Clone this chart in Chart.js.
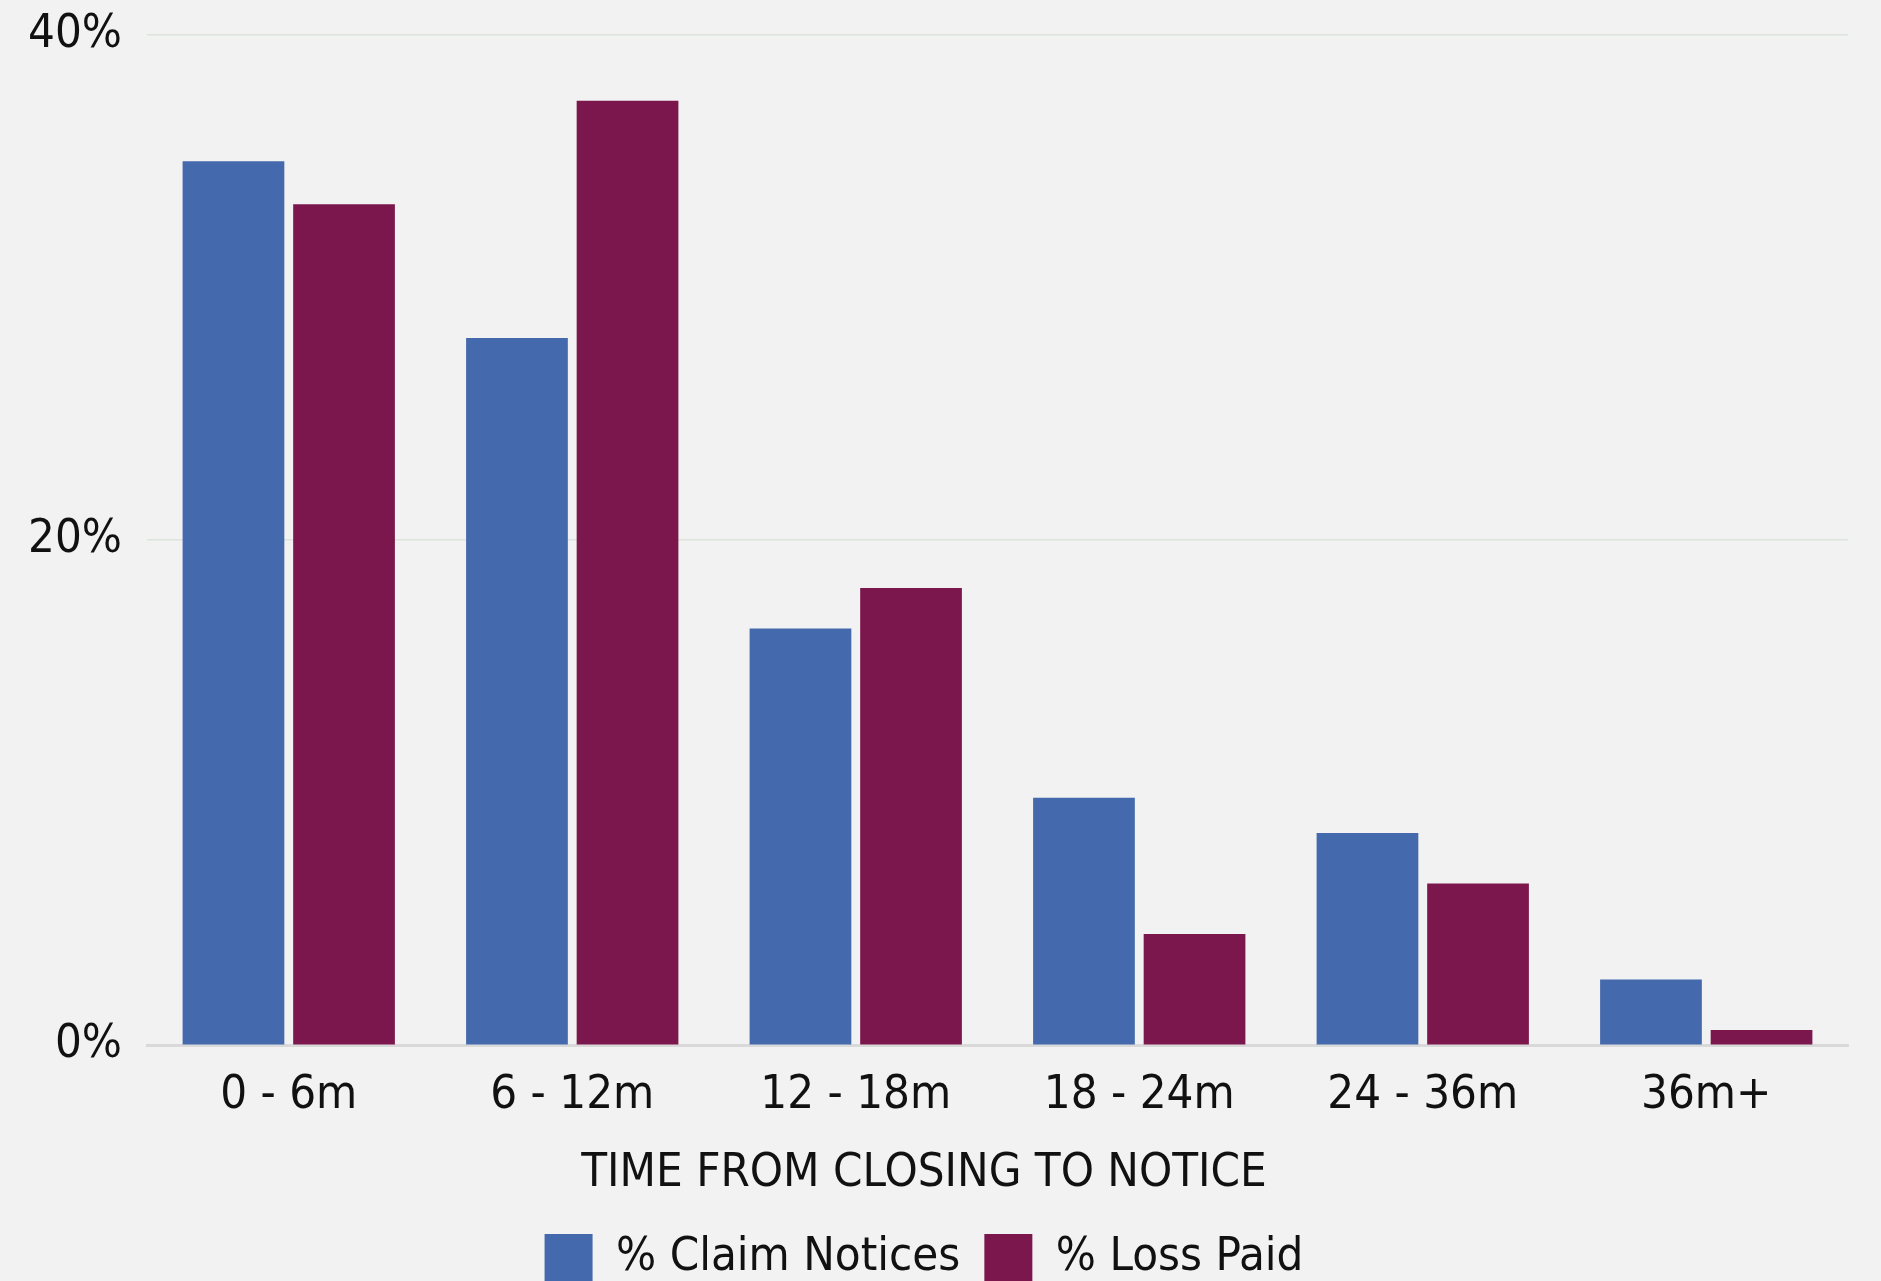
<!DOCTYPE html>
<html>
<head>
<meta charset="utf-8">
<script src="https://cdn.jsdelivr.net/npm/chart.js@4"></script>
<style>
  html, body { margin: 0; padding: 0; background: #f2f2f2; overflow: hidden; }
  #wrap { width: 1881px; height: 1292px; }
</style>
</head>
<body>
<div id="wrap"><canvas id="barChart"></canvas></div>
<script>
// Time buckets from closing to claim notice
const buckets = ['0 - 6m', '6 - 12m', '12 - 18m', '18 - 24m', '24 - 36m', '36m+'];
// Share of claim notices per bucket (%)
const claimNotices = [35.0, 28.0, 16.5, 9.8, 8.4, 2.6];
// Share of loss paid per bucket (%)
const lossPaid = [33.3, 37.4, 18.1, 4.4, 6.4, 0.6];

const FONT = "'Liberation Sans Narrow', 'DejaVu Sans Condensed', 'Roboto', sans-serif";
const FS = 47;
Chart.defaults.font.family = FONT;
Chart.defaults.color = '#111';

const ctx = document.getElementById('barChart').getContext('2d');
const barChart = new Chart(ctx, {
    type: 'bar',
    data: {
        labels: buckets,
        datasets: [
            {
                label: '% Claim Notices',
                data: claimNotices,
                backgroundColor: '#4469ac',
                barPercentage: 0.92,
                categoryPercentage: 0.78,
            },
            {
                label: '% Loss Paid',
                data: lossPaid,
                backgroundColor: '#7b174c',
                barPercentage: 0.92,
                categoryPercentage: 0.78,
            },
        ],
    },
    options: {
        responsive: true,
        maintainAspectRatio: false,
        animation: false,
        layout: {
            autoPadding: false,
            padding: { top: 35, right: 33, left: 0, bottom: 0 },
        },
        plugins: {
            tooltip: { enabled: false },
            legend: {
                position: 'bottom',
                labels: {
                    boxWidth: 48,
                    boxHeight: 48,
                    padding: 24,
                    font: { size: FS },
                    color: '#111',
                },
            },
            // x-axis caption sits between ticks and legend, centred on the canvas
            title: {
                display: true,
                position: 'bottom',
                weight: 500,
                text: 'TIME FROM CLOSING TO NOTICE',
                font: { size: FS, weight: 'normal' },
                color: '#111',
                padding: { top: 8, bottom: 8 },
            },
        },
        scales: {
            x: {
                grid: { display: false },
                border: { display: true, color: '#d9d9d9', width: 3 },
                ticks: {
                    font: { size: FS },
                    color: '#111',
                    padding: 14,
                },
            },
            y: {
                min: 0,
                max: 40,
                // fixed axis width, and no extra room above the top label
                afterFit: (scale) => {
                    scale.width = 147;
                    scale.paddingTop = 0;
                    scale.paddingBottom = 0;
                },
                grid: {
                    color: '#dce4dc',
                    lineWidth: 1.5,
                    drawTicks: false,
                },
                border: { display: false },
                ticks: {
                    stepSize: 20,
                    padding: 25,
                    font: { size: FS },
                    color: '#111',
                    callback: (v) => v + '%',
                },
            },
        },
    },
});
</script>
</body>
</html>
